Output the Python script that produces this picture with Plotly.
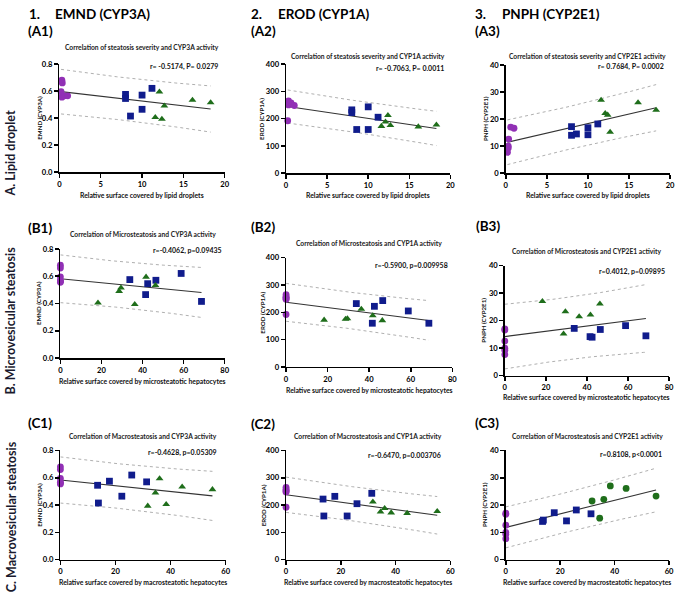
import numpy as np
import plotly.graph_objects as go

W, H = 685, 603

# ---------------- data (18 samples: 6 purple, 6 blue, 6 green) ----------------
group = ["P"] * 6 + ["B"] * 6 + ["G"] * 6
lipid = [0.3, 0.35, 0.2, 0.3, 0.6, 1.0,
         8.0, 8.0, 8.6, 10.0, 10.0, 11.2,
         12.1, 12.7, 11.6, 12.4, 16.1, 18.3]
micro = [0, 0, 0, 0, 0, 0,
         33.8, 42.5, 68.7, 46.5, 41.5, 58.8,
         41.7, 28.6, 18.3, 36.2, 46.3, 29.5]
macro = [0, 0, 0, 0, 0, 0,
         17.8, 13.5, 13.8, 31.3, 22.3, 25.9,
         36.0, 34.5, 38.4, 31.7, 44.2, 55.2]
emnd = [0.68, 0.66, 0.595, 0.555, 0.565, 0.565,
        0.575, 0.545, 0.415, 0.57, 0.465, 0.62,
        0.594, 0.49, 0.405, 0.393, 0.533, 0.514]
erod = [265, 255, 192, 250, 257, 248,
        232, 222, 160, 243, 160, 205,
        188, 175, 172, 212, 170, 177]
pnph = [10.0, 12.6, 7.7, 9.3, 17.0, 16.6,
        17.2, 14.0, 14.5, 16.8, 14.2, 18.2,
        22.1, 15.2, 27.0, 21.5, 26.1, 23.3]

row_x = [lipid, micro, macro]
col_y = [emnd, erod, pnph]

x_ticks = [[0, 5, 10, 15, 20], [0, 20, 40, 60, 80], [0, 20, 40, 60]]
y_ticks = [[0, 0.2, 0.4, 0.6, 0.8], [0, 100, 200, 300, 400], [0, 10, 20, 30, 40]]
y_ticktext = [["0.0", "0.2", "0.4", "0.6", "0.8"], ["0", "100", "200", "300", "400"],
              ["0", "10", "20", "30", "40"]]

col_headers = [("1.", "EMND (CYP3A)"), ("2.", "EROD (CYP1A)"), ("3.", "PNPH (CYP2E1)")]
row_labels = ["A. Lipid droplet", "B. Microvesicular steatosis", "C. Macrovesicular steatosis"]
panel_ids = [["(A1)", "(A2)", "(A3)"], ["(B1)", "(B2)", "(B3)"], ["(C1)", "(C2)", "(C3)"]]
titles = [
    ["Correlation of steatosis severity and CYP3A activity",
     "Correlation of steatosis severity and CYP1A activity",
     "Correlation of steatosis severity and CYP2E1 activity"],
    ["Correlation of Microsteatosis and CYP3A activity",
     "Correlation of Microsteatosis and CYP1A activity",
     "Correlation of Microsteatosis and CYP2E1 activity"],
    ["Correlation of Macrosteatosis and CYP3A activity",
     "Correlation of Macrosteatosis and CYP1A activity",
     "Correlation of Macrosteatosis and CYP2E1 activity"],
]
stats = [
    ["r= -0.5174, P= 0.0279", "r= -0.7063, P= 0.0011", "r= 0.7684, P= 0.0002"],
    ["r=-0.4062, p=0.09435", "r=-0.5900, p=0.009958", "r=0.4012, p=0.09895"],
    ["r=-0.4628, p=0.05309", "r=-0.6470, p=0.003706", "r=0.8108, p<0.0001"],
]
x_titles = ["Relative surface covered by lipid droplets",
            "Relative surface covered by microsteatotic hepatocytes",
            "Relative surface covered by macrosteatotic hepatocytes"]
y_titles = ["EMND (CYP3A)", "EROD (CYP1A)", "PNPH (CYP2E1)"]

# ---------------- layout geometry (pixels) ----------------
boxes = [  # x0, x1, ytop, ybottom
    [(58, 225, 60, 170), (287, 453, 60, 171), (509, 675, 61, 171)],
    [(59, 225, 248, 359), (287, 455, 257, 368), (508, 674, 265, 377)],
    [(59, 226, 453, 564), (287, 453, 453, 564), (509, 674, 453, 564)],
]
title_y = [[43, 52, 52], [233, 242, 250], [438, 438, 438]]
stat_pos = [[(219, 63), (448, 65), (670, 63)],
            [(223, 250), (452, 265), (671, 271)],
            [(218, 455), (445, 458), (668, 457)]]
xtitle_y = [[193, 193, 193], [382, 391, 399], [587, 587, 587]]
ytitle_x = [[37, 262, 488], [37, 263, 487], [37, 264, 487]]
pid_pos = [[(25, 26), (251, 26), (477, 26)],
           [(25, 227), (251, 226), (478, 225)],
           [(25, 425), (251, 426), (477, 425)]]
header_pos = [(26, 53), (251, 278), (477, 504)]
rowlabel_y = [151, 321, 520]

PURPLE = "#9130B5"
NAVY = "#101C8C"
GREEN = "#1F6E1B"
FONT = "Lato"

def px(x):
    return x / W

def py(y):
    return 1 - y / H

fig = go.Figure()
ann = []

def add_text(x, y, text, size, xanchor="center", angle=0, color="#111"):
    ann.append(dict(x=px(x), y=py(y), xref="paper", yref="paper", text=text,
                    showarrow=False, xanchor=xanchor, yanchor="middle", textangle=angle,
                    borderpad=0,
                    font=dict(family=FONT, size=size, color=color, weight="bold")))

T16 = 2.1199  # t(0.975, 16)

for r in range(3):
    for c in range(3):
        k = r * 3 + c + 1
        xs = np.array(row_x[r], dtype=float)
        ys = np.array(col_y[c], dtype=float)
        xa = "x" if k == 1 else f"x{k}"
        ya = "y" if k == 1 else f"y{k}"
        x0, x1, yt, yb = boxes[r][c]
        fig.layout[f"xaxis{'' if k == 1 else k}"] = dict(
            domain=[px(x0), px(x1)], anchor=ya, range=[0, x_ticks[r][-1]],
            tickvals=x_ticks[r], showline=True, linecolor="black", linewidth=1.5,
            ticks="outside", ticklen=4, tickwidth=1.5, tickcolor="black",
            showgrid=False, zeroline=False,
            tickfont=dict(family=FONT, size=7.6, color="black", weight="bold"))
        fig.layout[f"yaxis{'' if k == 1 else k}"] = dict(
            domain=[py(yb), py(yt)], anchor=xa, range=[0, y_ticks[c][-1]],
            tickvals=y_ticks[c], ticktext=y_ticktext[c], showline=True,
            linecolor="black", linewidth=1.5, ticks="outside", ticklen=4,
            tickwidth=1.5, tickcolor="black", showgrid=False, zeroline=False,
            tickfont=dict(family=FONT, size=7.6, color="black", weight="bold"))

        # regression + 95% prediction band
        n = len(xs)
        b, a = np.polyfit(xs, ys, 1)
        resid = ys - (a + b * xs)
        s = np.sqrt(np.sum(resid ** 2) / (n - 2))
        xbar = xs.mean()
        sxx = np.sum((xs - xbar) ** 2)
        xl = np.linspace(xs.min(), xs.max(), 60)
        yl = a + b * xl
        half = T16 * s * np.sqrt(1 + 1 / n + (xl - xbar) ** 2 / sxx)
        for yy in (yl + half, yl - half):
            fig.add_trace(go.Scatter(x=xl, y=yy, mode="lines", xaxis=xa, yaxis=ya,
                                     line=dict(color="#9a9a9a", width=0.8, dash="dot"),
                                     showlegend=False, hoverinfo="skip"))
        fig.add_trace(go.Scatter(x=xl, y=yl, mode="lines", xaxis=xa, yaxis=ya,
                                 line=dict(color="#333333", width=1.1),
                                 showlegend=False, hoverinfo="skip"))

        green_sym = "circle" if (r == 2 and c == 2) else "triangle-up"
        for g, col, sym, sz in (("P", PURPLE, "circle", 6.8), ("B", NAVY, "square", 6.8),
                                ("G", GREEN, green_sym, 6.8)):
            idx = [i for i, gg in enumerate(group) if gg == g]
            fig.add_trace(go.Scatter(x=xs[idx], y=ys[idx], mode="markers", xaxis=xa, yaxis=ya,
                                     marker=dict(color=col, symbol=sym, size=sz),
                                     cliponaxis=False, showlegend=False))

        cx = (x0 + x1) / 2
        add_text(cx, title_y[r][c], titles[r][c], 6.7, color="#222")
        sx, sy = stat_pos[r][c]
        add_text(sx, sy, stats[r][c], 7, xanchor="right")
        add_text(cx, xtitle_y[r][c], x_titles[r], 6.8)
        add_text(ytitle_x[r][c], (yt + yb) / 2, y_titles[c], 6.2, angle=-90)
        lx, ly = pid_pos[r][c]
        add_text(lx, ly, panel_ids[r][c], 13.5, xanchor="left", color="black")

for c in range(3):
    a0, a1 = header_pos[c]
    add_text(a0, 9, col_headers[c][0], 13.5, xanchor="left", color="black")
    add_text(a1, 9, col_headers[c][1], 13.5, xanchor="left", color="black")

for r in range(3):
    add_text(9, rowlabel_y[r], row_labels[r], 12.5, angle=-90, color="#1a1a2e")

fig.update_layout(width=W, height=H, margin=dict(l=0, r=0, t=0, b=0),
                  paper_bgcolor="white", plot_bgcolor="white",
                  annotations=ann, showlegend=False)

fig.write_html("out.html", config={"displayModeBar": False, "staticPlot": True},
               post_script="document.body.style.margin='0';document.body.style.overflow='hidden';")
